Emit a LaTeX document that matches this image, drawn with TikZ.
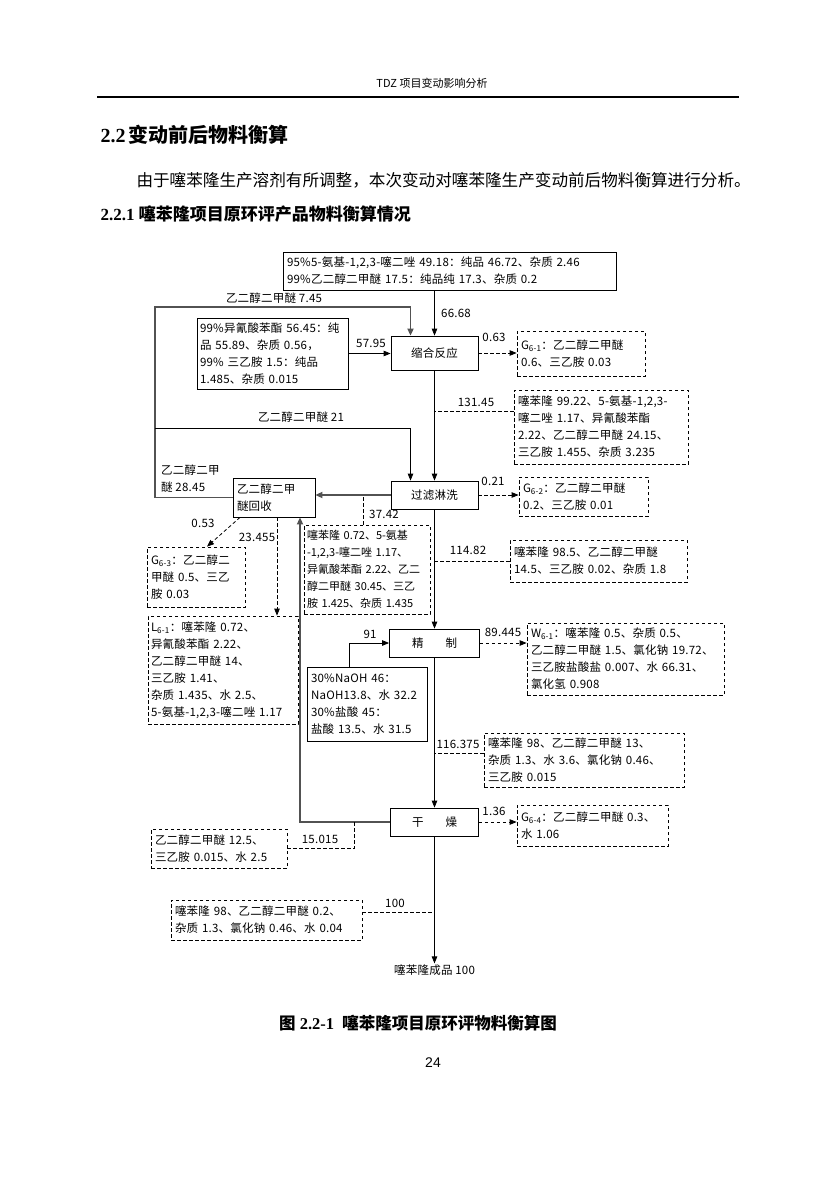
\documentclass[tikz,border=0pt]{standalone}
\usepackage{fontspec}
\setmainfont{Liberation Serif}
\newfontfamily\cjk{Noto Sans CJK SC}
\newfontfamily\cjkd{Noto Sans CJK SC}[LetterSpace=2]
\newfontfamily\pgsans{Liberation Sans}
\usetikzlibrary{arrows.meta}

\begin{document}
\begin{tikzpicture}[x=1pt,y=-1pt,
		txt/.style={font=\cjkd\fontsize{11.5}{17}\selectfont, inner sep=1pt},
		proc/.style={draw, line width=0.8pt, minimum height=28pt, font=\cjkd\fontsize{11.5}{17}\selectfont},
		sbox/.style={draw, line width=0.8pt, align=left, inner xsep=4pt, inner ysep=2pt, font=\cjkd\fontsize{11.5}{17}\selectfont},
		dbox/.style={sbox, dash pattern=on 3.5pt off 2.5pt},
		flow/.style={-{Triangle[length=7pt,width=5.5pt]}, line width=0.8pt},
		dflow/.style={flow, dash pattern=on 3.5pt off 2.5pt},
		leader/.style={line width=0.8pt, dash pattern=on 3.5pt off 2.5pt},
		rec/.style={-{Triangle[length=7pt,width=6pt]}, line width=1.8pt, draw=black!68},
	]
		\fill[white] (0,0) rectangle (836,1182);
		\useasboundingbox (0,0) rectangle (836,1182);

		\node[font=\cjk\fontsize{11}{13}\selectfont] (hdr) at (432,83) {TDZ 项目变动影响分析};
		\draw[line width=1.8pt] (97,97) -- (739,97);
		\node[anchor=west, font=\bfseries\fontsize{20}{24}\selectfont] (sec) at (97,135) {2.2\,{\cjk\bfseries 变动前后物料衡算}};
		\node[anchor=west, font=\cjk\fontsize{16.6}{20}\selectfont] (par) at (133,180) {由于噻苯隆生产溶剂有所调整，本次变动对噻苯隆生产变动前后物料衡算进行分析。};
		\node[anchor=west, font=\bfseries\fontsize{17}{20}\selectfont] (sub) at (97,214) {2.2.1 {\cjk\bfseries 噻苯隆项目原环评产品物料衡算情况}};

		\node[sbox, text width=325pt, minimum height=38pt] (top) at (449.5,271) {95\%5-氨基-1,2,3-噻二唑 49.18：纯品 46.72、杂质 2.46\\99\%乙二醇二甲醚 17.5：纯品纯 17.3、杂质 0.2};
		\node[sbox, text width=145pt, inner xsep=3pt, minimum height=71pt] (inp) at (272.5,353.5) {99\%异氰酸苯酯 56.45：纯\\品 55.89、杂质 0.56，\\99\% 三乙胺 1.5：纯品\\1.485、杂质 0.015};
		\node[proc, minimum width=87pt, minimum height=34pt] (sh) at (434.5,353) {缩合反应};
		\node[dbox, text width=120pt, minimum height=45pt] (g1) at (581,353.5) {G\textsubscript{6-1}：乙二醇二甲醚\\0.6、三乙胺 0.03};
		\node[dbox, text width=166pt, minimum height=74pt] (m1) at (601,427) {噻苯隆 99.22、5-氨基-1,2,3-\\噻二唑 1.17、异氰酸苯酯\\2.22、乙二醇二甲醚 24.15、\\三乙胺 1.455、杂质 3.235};
		\node[proc, minimum width=87pt] (gl) at (434.5,495) {过滤淋洗};
		\node[dbox, text width=121pt, minimum height=39pt] (g2) at (583.5,496.5) {G\textsubscript{6-2}：乙二醇二甲醚\\0.2、三乙胺 0.01};
		\node[sbox, text width=74pt, minimum height=39pt] (hs) at (274,497.5) {乙二醇二甲\\醚回收};
		\node[dbox, text width=120pt, inner xsep=3pt, minimum height=89pt, font=\cjk\fontsize{11}{17}\selectfont] (m2) at (367,569.5) {噻苯隆 0.72、5-氨基\\-1,2,3-噻二唑 1.17、\\异氰酸苯酯 2.22、乙二\\醇二甲醚 30.45、三乙\\胺 1.425、杂质 1.435};
		\node[dbox, text width=90pt, minimum height=60pt] (g3) at (196,577) {G\textsubscript{6-3}：乙二醇二\\甲醚 0.5、三乙\\胺 0.03};
		\node[dbox, text width=169pt, minimum height=42pt] (m3) at (598.5,561) {噻苯隆 98.5、乙二醇二甲醚\\14.5、三乙胺 0.02、杂质 1.8};
		\node[dbox, text width=144pt, inner xsep=3pt, minimum height=108pt] (l1) at (223,670) {L\textsubscript{6-1}：噻苯隆 0.72、\\异氰酸苯酯 2.22、\\乙二醇二甲醚 14、\\三乙胺 1.41、\\杂质 1.435、水 2.5、\\5-氨基-1,2,3-噻二唑 1.17};
		\node[proc, minimum width=90pt] (jz) at (434.5,643) {精\hspace{22pt}制};
		\node[sbox, text width=112pt, minimum height=74pt] (nb) at (367,704) {30\%NaOH 46：\\NaOH13.8、水 32.2\\30\%盐酸 45：\\盐酸 13.5、水 31.5};
		\node[dbox, text width=189pt, minimum height=72pt] (w1) at (625.5,659) {W\textsubscript{6-1}：噻苯隆 0.5、杂质 0.5、\\乙二醇二甲醚 1.5、氯化钠 19.72、\\三乙胺盐酸盐 0.007、水 66.31、\\氯化氢 0.908};
		\node[dbox, text width=192pt, minimum height=54pt] (m4) at (584,760) {噻苯隆 98、乙二醇二甲醚 13、\\杂质 1.3、水 3.6、氯化钠 0.46、\\三乙胺 0.015};
		\node[proc, minimum width=88pt] (gz) at (434.5,822) {干\hspace{22pt}燥};
		\node[dbox, text width=143pt, minimum height=41pt] (g4) at (592.5,825.5) {G\textsubscript{6-4}：乙二醇二甲醚 0.3、\\水 1.06};
		\node[dbox, text width=128pt, minimum height=39pt] (m5) at (219,848.5) {乙二醇二甲醚 12.5、\\三乙胺 0.015、水 2.5};
		\node[dbox, text width=183pt, minimum height=40pt] (m6) at (266.5,920) {噻苯隆 98、乙二醇二甲醚 0.2、\\杂质 1.3、氯化钠 0.46、水 0.04};
		\node[txt] (cp) at (434.5,970) {噻苯隆成品 100};

		\node[txt] (q1) at (456,313) {66.68};
		\node[txt] (q2) at (274,298) {乙二醇二甲醚 7.45};
		\node[txt] (q3) at (371,343) {57.95};
		\node[txt] (q4) at (494,337) {0.63};
		\node[txt] (q5) at (476,402) {131.45};
		\node[txt] (q6) at (301,417) {乙二醇二甲醚 21};
		\node[txt, align=left, anchor=west] (q7) at (160,479) {乙二醇二甲\\醚 28.45};
		\node[txt] (q8) at (493,481) {0.21};
		\node[txt] (q9) at (384,514) {37.42};
		\node[txt] (q10) at (203,523) {0.53};
		\node[txt] (q11) at (257,537) {23.455};
		\node[txt] (q12) at (468,550) {114.82};
		\node[txt] (q13) at (370,634) {91};
		\node[txt] (q14) at (503,632) {89.445};
		\node[txt] (q15) at (458,744) {116.375};
		\node[txt] (q16) at (494,811) {1.36};
		\node[txt] (q17) at (320,839) {15.015};
		\node[txt] (q18) at (395,903) {100};

		\draw[flow] (top.south -| sh.north) -- (sh.north);
		\coordinate (lp) at (155,307);
		\draw[rec] (hs.west) -| (lp) -| ([xshift=-24pt]sh.north);
		\draw[flow] (inp.east) -- (inp.east -| sh.west);
		\draw[dflow] (sh.east) -- (sh.east -| g1.west);
		\draw[flow] (sh.south) -- (gl.north);
		\coordinate (a1) at ([yshift=16pt]m1.west);
		\draw[leader] (a1) -- (a1 -| sh.south);
		\coordinate (lq) at (155,428);
		\draw[flow] (lq) -| ([xshift=-24pt]gl.north);
		\draw[dflow] (gl.east) -- (gl.east -| g2.west);
		\draw[rec] (gl.west) -- (gl.west -| hs.east);
		\draw[leader] ([xshift=-4pt]m2.north) -- ([xshift=-4pt]m2.north |- gl.west);
		\draw[dflow] ([xshift=-34pt]hs.south) -- ([xshift=11pt]g3.north);
		\coordinate (a2) at ([xshift=3pt]hs.south);
		\draw[dflow] (a2) -- (a2 |- l1.north);
		\draw[flow] (gl.south) -- (jz.north);
		\coordinate (a3) at (m3.west);
		\draw[leader] (a3) -- (a3 -| gl.south);
		\draw[flow] ([xshift=-18pt]nb.north) |- (jz.west);
		\draw[dflow] (jz.east) -- (jz.east -| w1.west);
		\draw[flow] (jz.south) -- (gz.north);
		\coordinate (a4) at ([yshift=7pt]m4.west);
		\draw[leader] (a4) -- (a4 -| jz.south);
		\draw[dflow] (gz.east) -- (gz.east -| g4.west);
		\draw[rec] (gz.west) -| ([xshift=26pt]hs.south);
		\coordinate (a5) at ([xshift=-36pt]gz.west);
		\draw[leader] (a5) |- (m5.east);
		\draw[flow] (gz.south) -- (cp.north);
		\coordinate (a6) at ([yshift=8pt]m6.east);
		\draw[leader] (a6) -- (a6 -| gz.south);

		\node[font=\bfseries\fontsize{16.5}{20}\selectfont] (cap) at (418,1023) {{\cjk\bfseries 图} 2.2-1\ \ {\cjk\bfseries 噻苯隆项目原环评物料衡算图}};
		\node[font=\pgsans\fontsize{14}{16}\selectfont] (pg) at (433,1063) {24};
	\end{tikzpicture}
\end{document}
